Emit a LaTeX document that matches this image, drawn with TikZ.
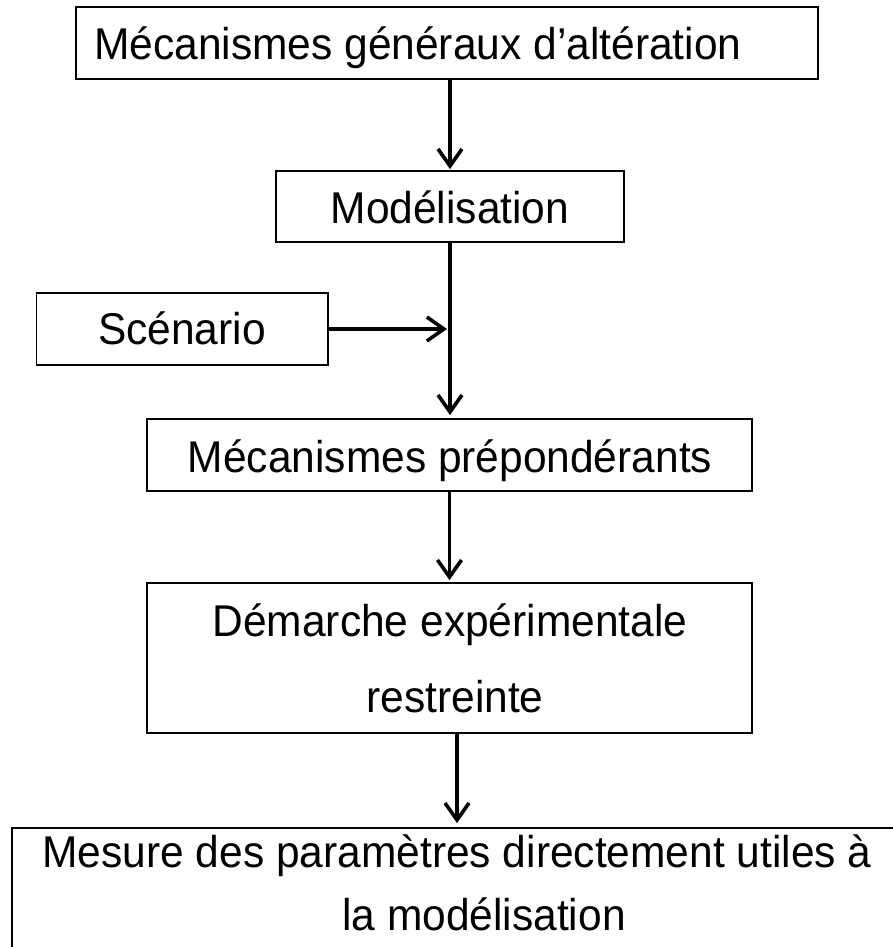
\documentclass[tikz,border=0pt]{standalone}
\usepackage{fontspec}
\setmainfont[FakeStretch=0.955]{Liberation Sans}
\usetikzlibrary{arrows.meta}
\tikzset{
  box/.style={draw, line width=1.8pt, rectangle, inner sep=0pt},
  txt/.style={inner sep=0pt, anchor=base, font=\fontsize{44.5}{52}\selectfont},
  flow/.style={line width=3.4pt, -{Straight Barb[length=17pt, width=24pt, line width=3.6pt]}}
}
\begin{document}
\begin{tikzpicture}[x=1pt,y=1pt]
\useasboundingbox (0,0) rectangle (893,-947);
\clip (0,0) rectangle (893,-947);
% boxes
\node[box, minimum width=742pt, minimum height=72pt] (b1) at (447,-43) {};
\node[box, minimum width=348pt, minimum height=71pt] (b2) at (450,-206.5) {};
\node[box, minimum width=291.5pt, minimum height=72pt] (bs) at (182.25,-329) {};
\node[box, minimum width=605pt, minimum height=72pt] (b3) at (449.5,-455) {};
\node[box, minimum width=605pt, minimum height=150pt] (b4) at (449.5,-658) {};
\node[box, minimum width=900pt, minimum height=140pt] (b5) at (462,-898) {};
% texts
\node[txt, anchor=base west] (t1) at (94,-60) {Mécanismes généraux d’altération};
\node[txt] (t2) at (450,-223) {Modélisation};
\node[txt] (ts) at (182,-344) {Scénario};
\node[txt] (t3) at (450,-472) {Mécanismes prépondérants};
\node[txt] (t4a) at (450,-636) {Démarche expérimentale};
\node[txt] (t4b) at (455,-712) {restreinte};
\node[txt] (t5a) at (457,-867) {Mesure des paramètres directement utiles à};
\node[txt] (t5b) at (484,-930) {la modélisation};
% connectors
\draw[flow, shorten >=1pt] (b1.south -| b2.north) -- (b2.north);
\draw[line width=3.4pt] (b2.south) -- (b2.south |- bs.east);
\draw[flow, shorten >=3pt] (b2.south |- bs.east) -- (b2.south |- b3.north);
\draw[flow, shorten >=3pt] (bs.east) -- (bs.east -| b2.south);
\draw[flow, shorten >=2pt] (b3.south) -- (b3.south |- b4.north);
\coordinate (c4) at ([xshift=7.5pt]b4.south);
\draw[flow, shorten >=4pt] (c4) -- (c4 |- b5.north);
\end{tikzpicture}
\end{document}
